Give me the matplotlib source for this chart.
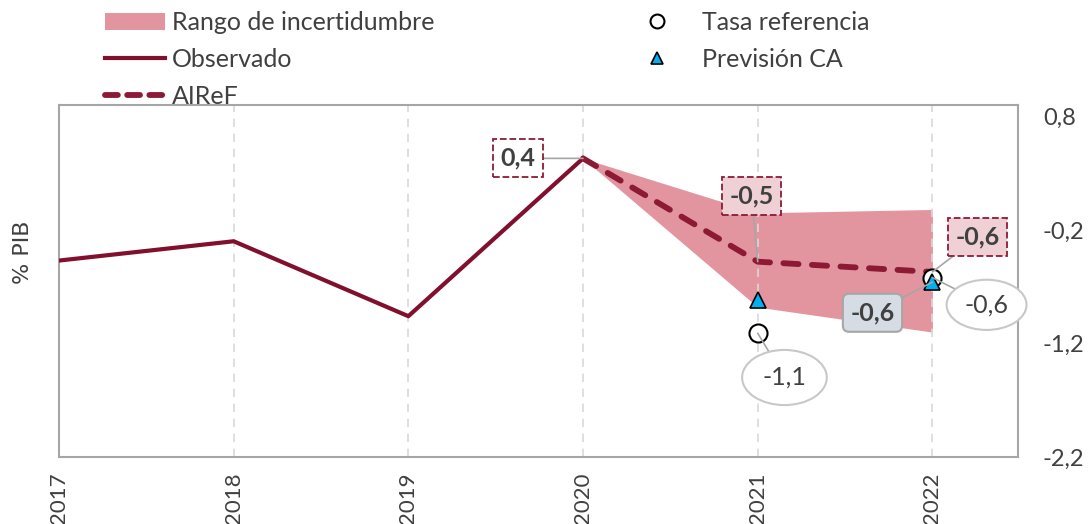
import numpy as np
import matplotlib.pyplot as plt
from matplotlib.patches import Patch
from matplotlib.lines import Line2D

# data
years = [2017, 2018, 2019, 2020, 2021, 2022]
obs_years = [2017, 2018, 2019, 2020]
observado = [-0.47, -0.30, -0.96, 0.43]
fc_years = [2020, 2021, 2022]
airef = [0.43, -0.48, -0.57]
band_low = [0.43, -0.88, -1.10]
band_high = [0.43, -0.05, -0.02]
ref_years = [2021, 2022]
tasa_ref = [-1.11, -0.62]
prevision_ca = [-0.82, -0.66]
ytick_vals = [0.8, -0.2, -1.2, -2.2]
ytick_labels = ['0,8', '-0,2', '-1,2', '-2,2']

dark_red = '#80102e'
dash_red = '#8c1a35'
band_col = '#e3959f'
txt_col = '#404040'
spine_col = '#a6a6a6'
dash = (0, (2.6, 2.3))

plt.rcParams['font.family'] = ['Lato', 'DejaVu Sans']

fig = plt.figure(figsize=(10.91, 5.24), dpi=100)
ax = fig.add_axes([59 / 1091, 1 - 457 / 524, (1018 - 59) / 1091, (457 - 105) / 524])

ax.fill_between(fc_years, band_low, band_high, color=band_col, lw=0, zorder=1)
ax.plot(obs_years, observado, color=dark_red, lw=3, zorder=3)
ax.plot(fc_years, airef, color=dash_red, lw=4.2, ls=dash, dash_capstyle='round', zorder=3)
ax.plot(ref_years, tasa_ref, 'o', ms=13, mfc='white', mec='black', mew=1.5, zorder=4)
ax.plot(ref_years, prevision_ca, '^', ms=11, mfc='#00b0f0', mec='black', mew=1.2, zorder=5)

ax.set_xlim(2017, 2022.49)
ax.set_ylim(-2.2, 0.9)
ax.set_xticks(years)
ax.set_xticklabels([str(y) for y in years], rotation=90, fontsize=16, color=txt_col, va='top')
ax.grid(axis='x', color='#d9d9d9', ls=(0, (5, 4)), lw=1.2)
ax.grid(axis='y', visible=False)
ax.yaxis.tick_right()
ax.set_yticks(ytick_vals)
ax.set_yticklabels(ytick_labels, fontsize=17, color=txt_col)
ax.tick_params(axis='both', length=0)
ax.tick_params(axis='y', pad=18)
ax.tick_params(axis='x', pad=11)
for s in ax.spines.values():
    s.set_color(spine_col)
    s.set_linewidth(1.5)
ax.set_ylabel('% PIB', fontsize=16, color=txt_col, family='DejaVu Sans')
ax.yaxis.set_label_position('left')
ax.yaxis.set_label_coords(-0.027, 0.582)

# data labels
conn = dict(arrowstyle='-', color='#a6a6a6', lw=1.2, shrinkA=0, shrinkB=0)
bold = dict(fontsize=18, fontweight='bold', color=txt_col, ha='center', va='center')
ax.annotate('0,4', xy=(fc_years[0], airef[0]), xytext=(2019.625, 0.43),
            bbox=dict(boxstyle='square,pad=0.3', fc='white', ec=dash_red, ls='--', lw=1.3),
            arrowprops=conn, zorder=6, **bold)
ax.annotate('-0,5', xy=(fc_years[1], airef[1]), xytext=(2020.965, 0.1),
            bbox=dict(boxstyle='square,pad=0.3', fc='#efd0d4', ec=dash_red, ls='--', lw=1.3),
            arrowprops=conn, zorder=6, **bold)
ax.annotate('-0,6', xy=(fc_years[2], airef[2]), xytext=(2022.26, -0.265),
            bbox=dict(boxstyle='square,pad=0.3', fc='#efd0d4', ec=dash_red, ls='--', lw=1.3),
            arrowprops=conn, zorder=6, **bold)
ax.annotate('-0,6', xy=(ref_years[1], prevision_ca[1]), xytext=(2021.657, -0.93),
            bbox=dict(boxstyle='round,pad=0.3,rounding_size=0.25', fc='#d6dce4', ec=spine_col, lw=1.5),
            arrowprops=conn, zorder=6, **bold)
ell = dict(fontsize=18, color=txt_col, ha='center', va='center')
ax.annotate('-1,1', xy=(ref_years[0], tasa_ref[0]), xytext=(2021.153, -1.5),
            bbox=dict(boxstyle='ellipse,pad=0.32', fc='white', ec='#c8c8c8', lw=1.5),
            arrowprops=conn, zorder=6, **ell)
ax.annotate('-0,6', xy=(ref_years[1], tasa_ref[1]), xytext=(2022.31, -0.86),
            bbox=dict(boxstyle='ellipse,pad=0.25', fc='white', ec='#c8c8c8', lw=1.5),
            arrowprops=conn, zorder=6, **ell)

# legends
h1 = [Patch(fc=band_col, ec='none'),
      Line2D([], [], color=dark_red, lw=3),
      Line2D([], [], color=dash_red, lw=4.2, ls=(0, (2.2, 1.6)), dash_capstyle='round')]
leg1 = fig.legend(h1, ['Rango de incertidumbre', 'Observado', 'AIReF'],
                  loc='upper left', bbox_to_anchor=(97 / 1091, 0.993), frameon=False,
                  fontsize=18, handlelength=2.4, handletextpad=0.28, labelspacing=0.55,
                  borderaxespad=0, borderpad=0.3)
for t in leg1.get_texts():
    t.set_color(txt_col)
h2 = [Line2D([], [], ls='none', marker='o', ms=10, mfc='white', mec='black', mew=1.5),
      Line2D([], [], ls='none', marker='^', ms=9, mfc='#00b0f0', mec='black', mew=1.2)]
leg2 = fig.legend(h2, ['Tasa referencia', 'Previsión CA'],
                  loc='upper left', bbox_to_anchor=(637 / 1091, 0.993), frameon=False,
                  fontsize=18, handlelength=1.0, handletextpad=1.3, labelspacing=0.55,
                  borderaxespad=0, borderpad=0.3)
for t in leg2.get_texts():
    t.set_color(txt_col)

fig.savefig('out.png', dpi=100)
